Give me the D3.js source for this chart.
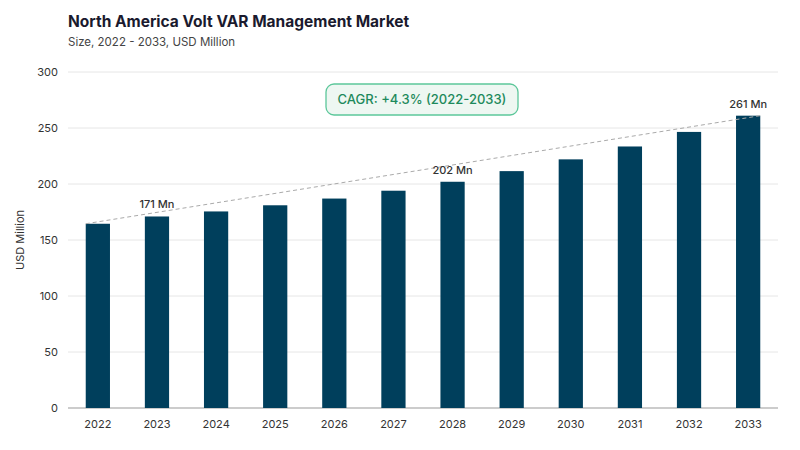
<!DOCTYPE html>
<html><head><meta charset="utf-8">
<script src="https://cdn.jsdelivr.net/npm/d3@7"></script>
<style>body{margin:0;background:#fff;font-family:Inter,"Open Sans",sans-serif}</style>
</head><body><svg id="c" width="800" height="450"></svg>
<script>
const years=["2022","2023","2024","2025","2026","2027","2028","2029","2030","2031","2032","2033"];
const values=[164.5,171,175.5,181,187,194,202,211.5,222,233.5,246.5,261];
const labeled={"2023":"171 Mn","2028":"202 Mn","2033":"261 Mn"};
const yTicks=[0,50,100,150,200,250,300];
const svg=d3.select("#c");
const m={l:68,r:778,t:72,b:408};
const x=d3.scaleBand().domain(years).range([m.l,m.r]).paddingInner(0.59).paddingOuter(0.3);
const y=d3.scaleLinear().domain([0,300]).range([m.b,m.t]);
svg.append("text").attr("x",68).attr("y",27).attr("font-size",15.5).attr("font-weight",700).attr("fill","#1a1a2e").text("North America Volt VAR Management Market");
svg.append("text").attr("x",68).attr("y",46).attr("font-size",11.5).attr("fill","#444").text("Size, 2022 - 2033, USD Million");
const ya=svg.append("g").attr("transform",`translate(${m.l},0)`).call(d3.axisLeft(y).tickValues(yTicks).tickSize(0).tickPadding(10));
ya.select(".domain").remove();
ya.selectAll("text").attr("font-size",11).attr("fill","#333").attr("font-family","Inter");
svg.append("g").selectAll("line").data(yTicks).join("line").attr("x1",m.l).attr("x2",m.r).attr("y1",d=>y(d)).attr("y2",d=>y(d)).attr("stroke",d=>d===0?"#999":"#e6e6e6");
svg.append("text").attr("transform","translate(24,240) rotate(-90)").attr("text-anchor","middle").attr("font-size",11).attr("fill","#333").text("USD Million");
const xa=svg.append("g").attr("transform",`translate(0,${m.b})`).call(d3.axisBottom(x).tickSize(0).tickPadding(12));
xa.select(".domain").remove();
xa.selectAll("text").attr("font-size",11).attr("fill","#333").attr("font-family","Inter");
svg.append("g").selectAll("rect").data(years).join("rect").attr("x",d=>x(d)).attr("width",x.bandwidth()).attr("y",(d,i)=>y(values[i])).attr("height",(d,i)=>m.b-y(values[i])).attr("fill","#003f5c");
svg.append("line").attr("x1",x(years[0])).attr("y1",y(values[0])).attr("x2",x(years[11])+x.bandwidth()).attr("y2",y(values[11])).attr("stroke","#aaa").attr("stroke-dasharray","4,3");
svg.append("g").selectAll("text").data(years.filter(d=>labeled[d])).join("text").attr("x",d=>x(d)+x.bandwidth()/2).attr("y",d=>y(values[years.indexOf(d)])-8).attr("text-anchor","middle").attr("font-size",11).attr("font-weight",500).attr("fill","#333").text(d=>labeled[d]);
svg.append("rect").attr("x",326).attr("y",84).attr("width",192).attr("height",31).attr("rx",8).attr("fill","#eef7f2").attr("stroke","#5cc79a").attr("stroke-width",1.3);
svg.append("text").attr("x",422).attr("y",104).attr("text-anchor","middle").attr("font-size",13).attr("font-weight",500).attr("fill","#1e8a5c").text("CAGR: +4.3% (2022-2033)");
</script></body></html>
